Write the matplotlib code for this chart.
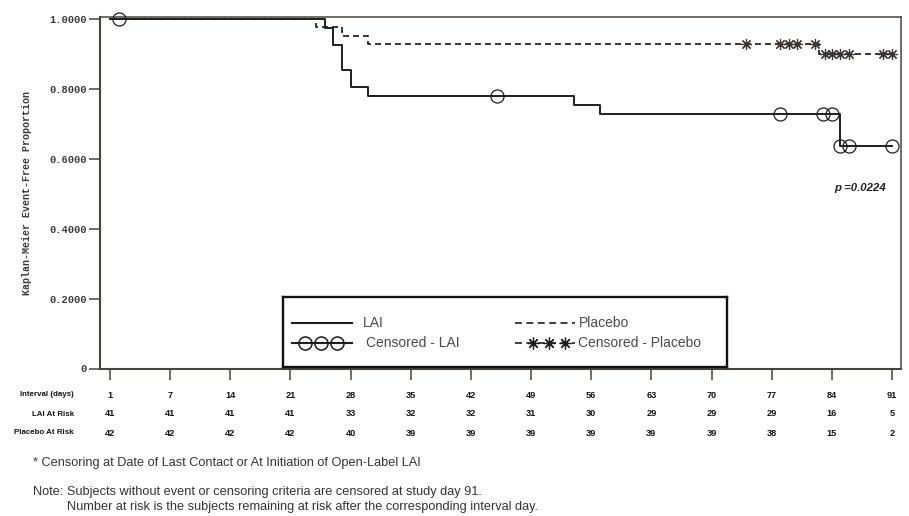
import numpy as np
import matplotlib
matplotlib.use('Agg')
import matplotlib.pyplot as plt
from matplotlib.transforms import blended_transform_factory

plt.rcParams['lines.scale_dashes'] = False

# ---------------- data ----------------
interval_days = [0, 7, 14, 21, 28, 35, 42, 49, 56, 63, 70, 77, 84, 91]
interval_labels = ['1', '7', '14', '21', '28', '35', '42', '49', '56', '63', '70', '77', '84', '91']
lai_at_risk = [41, 41, 41, 41, 33, 32, 32, 31, 30, 29, 29, 29, 16, 5]
placebo_at_risk = [42, 42, 42, 42, 40, 39, 39, 39, 39, 39, 39, 38, 15, 2]

lai_event_days = [25, 26, 27, 28, 30, 54, 57, 85]
lai_surv = [0.9756, 0.9268, 0.8537, 0.8049, 0.7805, 0.7545, 0.7285, 0.6374]
lai_censor_days = [1, 45, 78, 83, 84, 85, 86, 91]

placebo_event_days = [24, 27, 30, 82.5]
placebo_surv = [0.9762, 0.9524, 0.9286, 0.8990]
placebo_censor_days = [74, 78, 79, 80, 82, 83.2, 84, 85, 86, 90, 91]

end_day = 91
p_value_text = 'p =0.0224'
y_ticks = [0, 0.2, 0.4, 0.6, 0.8, 1.0]
y_tick_labels = ['0', '0.2000', '0.4000', '0.6000', '0.8000', '1.0000']
y_label = 'Kaplan-Meier Event-Free Proportion'
row_labels = ['Interval (days)', 'LAI At Risk', 'Placebo At Risk']
legend_labels = ['LAI', 'Censored - LAI', 'Placebo', 'Censored - Placebo']
footnote1 = '* Censoring at Date of Last Contact or At Initiation of Open-Label LAI'
note1 = 'Note: Subjects without event or censoring criteria are censored at study day 91.'
note2 = 'Number at risk is the subjects remaining at risk after the corresponding interval day.'

# ---------------- helpers ----------------
W, H = 909, 516
def fx(px):
    return px / W
def fy(py):
    return 1 - py / H

def step_xy(event_days, surv):
    t = [0] + list(event_days) + [end_day]
    s = [1.0] + list(surv) + [surv[-1]]
    return t, s

def km_at(days, event_days, surv):
    idx = np.searchsorted(np.asarray(event_days, float), np.asarray(days, float), side='right')
    return np.r_[1.0, surv][idx]

SANS = ['Liberation Sans', 'DejaVu Sans']
MONO = ['Liberation Mono', 'DejaVu Sans Mono']

line_col = '#1e1e1e'
spine_col = '#4a443e'
dash_pat = (4.3, 2.9)
star = (8, 2, 0)

fig = plt.figure(figsize=(W / 100, H / 100), dpi=100)
ax = fig.add_axes([fx(100), fy(368.5), fx(901) - fx(100), fy(16.9) - fy(368.5)])

# curves
t, s = step_xy(lai_event_days, lai_surv)
ax.step(t, s, where='post', color=line_col, lw=1.4, zorder=3)
ax.plot(lai_censor_days, km_at(lai_censor_days, lai_event_days, lai_surv), ls='none',
        marker='o', ms=9.4, mfc='none', mec=line_col, mew=0.9, zorder=4, clip_on=False)

t, s = step_xy(placebo_event_days, placebo_surv)
ax.step(t, s, where='post', color=line_col, lw=1.25, dashes=dash_pat, zorder=3)
ax.plot(placebo_censor_days, km_at(placebo_censor_days, placebo_event_days, placebo_surv), ls='none',
        marker=star, ms=8, mec='#3a3530', mew=0.85, zorder=4, clip_on=False)

ax.set_xlim(-1.16, 92.05)
ax.set_ylim(0, 1.006)

ax.set_xticks(interval_days)
ax.set_xticklabels([])
ax.set_yticks(y_ticks)
ax.set_yticklabels(y_tick_labels, family=MONO, fontweight='bold', fontsize=7.5, color='#3a3a3a')
ax.tick_params(axis='x', direction='out', length=8, width=1.1, color=spine_col)
ax.tick_params(axis='y', direction='out', length=8, width=1.1, color=spine_col, pad=1.5)

for side in ['left', 'bottom']:
    ax.spines[side].set_linewidth(1.5)
    ax.spines[side].set_color(spine_col)
for side in ['top', 'right']:
    ax.spines[side].set_linewidth(1.1)
    ax.spines[side].set_color(spine_col)

fig.text(fx(27), (fy(16.9) + fy(368.5)) / 2, y_label, rotation=90, ha='center', va='center',
         family=MONO, fontweight='bold', fontsize=7.2, color='#3a3a3a')

# p-value
fig.text(fx(886), fy(188), p_value_text, ha='right', va='center', family=SANS,
         fontweight='bold', style='italic', fontsize=8.2, color='#222222')

# ---------------- legend (own axes, pixel coords) ----------------
lx0, ly0, lx1, ly1 = 282.5, 297.3, 726.7, 367.3
lax = fig.add_axes([fx(lx0), fy(ly1), fx(lx1) - fx(lx0), fy(ly0) - fy(ly1)], zorder=5)
lax.set_xlim(0, lx1 - lx0)
lax.set_ylim(ly1 - ly0, 0)
lax.set_xticks([]); lax.set_yticks([])
for sp in lax.spines.values():
    sp.set_linewidth(1.7)
    sp.set_color('#111111')
lax.plot([9, 69], [26, 26], color=line_col, lw=1.5)
lax.plot([9, 69], [46, 46], color=line_col, lw=1.5)
lax.plot([22, 38, 54], [46, 46, 46], ls='none', marker='o', ms=9.4, mfc='none', mec=line_col, mew=1.1)
lax.plot([232, 292], [26, 26], color=line_col, lw=1.2, dashes=(5, 3.2))
lax.plot([232, 292], [46, 46], color=line_col, lw=1.2, dashes=(5, 3.2))
lax.plot([250, 266, 282], [46, 46, 46], ls='none', marker=star, ms=8.5, mec=line_col, mew=0.9)
leg_text_kw = dict(va='center', ha='left', family=SANS, fontsize=10, color='#4a4a4a')
lax.text(80, 26, legend_labels[0], **leg_text_kw)
lax.text(83, 46, legend_labels[1], **leg_text_kw)
lax.text(296, 26, legend_labels[2], **leg_text_kw)
lax.text(296, 46, legend_labels[3], **leg_text_kw)

# ---------------- risk table ----------------
tr = blended_transform_factory(ax.transData, fig.transFigure)
rows = [interval_labels, [str(v) for v in lai_at_risk], [str(v) for v in placebo_at_risk]]
row_y = [395, 414, 433]
for lab, vals, yy in zip(row_labels, rows, row_y):
    fig.text(fx(74), fy(yy), lab, ha='right', va='center', family=SANS,
             fontweight='bold', fontsize=5.7, color='#111111')
    for d, v in zip(interval_days, vals):
        ax.text(d, fy(yy), v, transform=tr, ha='center', va='center', family=SANS,
                fontweight='bold', fontsize=6.6, color='#111111', clip_on=False)

# ---------------- footnotes ----------------
note_kw = dict(ha='left', va='center', family=SANS, fontsize=9.2, color='#333333')
fig.text(fx(33), fy(463), footnote1, **note_kw)
fig.text(fx(33), fy(492), note1, **note_kw)
fig.text(fx(67), fy(507), note2, **note_kw)

fig.savefig('out.png', dpi=100)
